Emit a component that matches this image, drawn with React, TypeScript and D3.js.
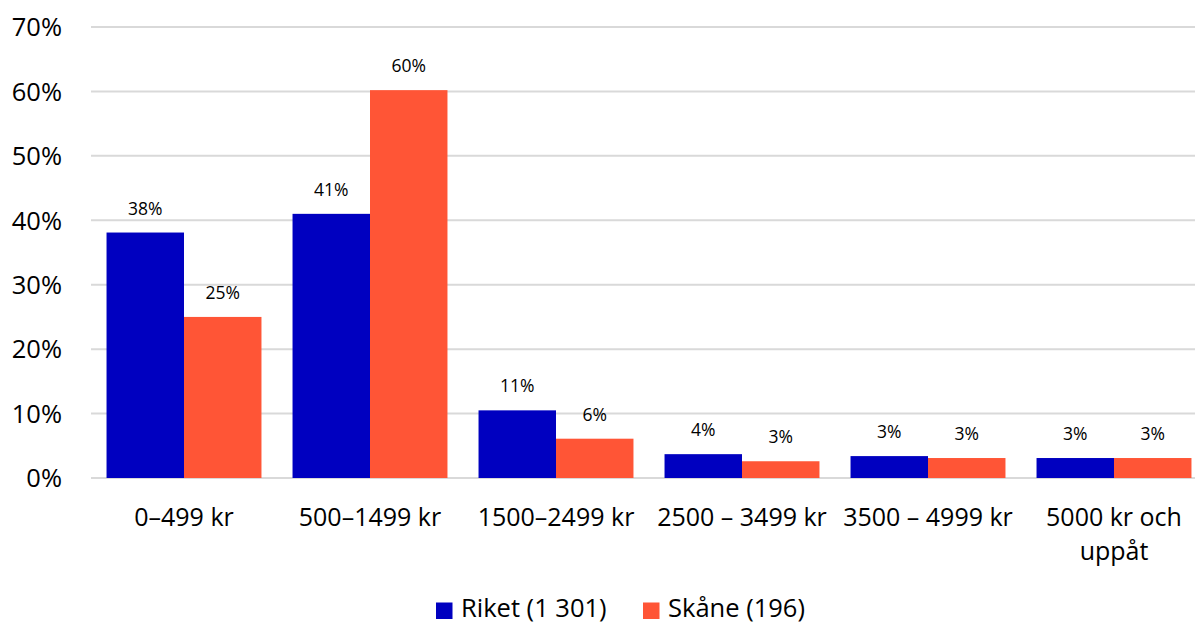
import React from "react";
import * as d3 from "d3";

const categories = ["0–499 kr", "500–1499 kr", "1500–2499 kr", "2500 – 3499 kr", "3500 – 4999 kr", "5000 kr och\nuppåt"];
const seriesNames = ["Riket (1 301)", "Skåne (196)"];
const riket = [38.1, 41.0, 10.5, 3.7, 3.4, 3.1];
const skane = [25.0, 60.2, 6.1, 2.6, 3.1, 3.1];
const riketLabels = ["38%", "41%", "11%", "4%", "3%", "3%"];
const skaneLabels = ["25%", "60%", "6%", "3%", "3%", "3%"];
const yTicks = [0, 10, 20, 30, 40, 50, 60, 70];
const colors = ["#0000C0", "#FF5536"];

const W = 1195;
const H = 624;
const FONT = "'Open Sans', sans-serif";

export default function App() {
  const x = d3.scaleBand<string>().domain(categories).range([91, 1207]).paddingInner(0.167).paddingOuter(0.0835);
  const x1 = d3.scaleBand<number>().domain([0, 1]).range([0, x.bandwidth()]);
  const y = d3.scaleLinear().domain([0, 70]).range([478, 27]);
  const series = [riket, skane];
  const labels = [riketLabels, skaneLabels];
  const legendX = [436, 643];

  return (
    <svg width={W} height={H} style={{ position: "absolute", left: 0, top: 0, background: "#fff" }} fontFamily={FONT}>
      {yTicks.map((t) => (
        <g key={t}>
          <line x1={91} x2={W} y1={y(t)} y2={y(t)} stroke="#d9d9d9" strokeWidth={2} />
          <text x={62} y={y(t) + 9.3} textAnchor="end" fontSize={25.5} fill="#000">{t}%</text>
        </g>
      ))}
      {categories.map((c, i) => (
        <g key={c}>
          {series.map((s, k) => {
            const bx = (x(c) as number) + (x1(k) as number);
            return (
              <g key={k}>
                <rect x={bx} y={y(s[i])} width={x1.bandwidth()} height={y(0) - y(s[i])} fill={colors[k]} />
                <text x={bx + x1.bandwidth() / 2} y={y(s[i]) - 18} textAnchor="middle" fontSize={17.5} fill="#000">{labels[k][i]}</text>
              </g>
            );
          })}
          {c.split("\n").map((line, j) => (
            <text key={j} x={(x(c) as number) + x.bandwidth() / 2} y={526 + j * 34} textAnchor="middle" fontSize={25} fill="#000">{line}</text>
          ))}
        </g>
      ))}
      {seriesNames.map((n, k) => (
        <g key={n}>
          <rect x={legendX[k]} y={602.5} width={16.5} height={16.5} fill={colors[k]} />
          <text x={legendX[k] + 25} y={617} fontSize={25.5} fill="#000">{n}</text>
        </g>
      ))}
    </svg>
  );
}
